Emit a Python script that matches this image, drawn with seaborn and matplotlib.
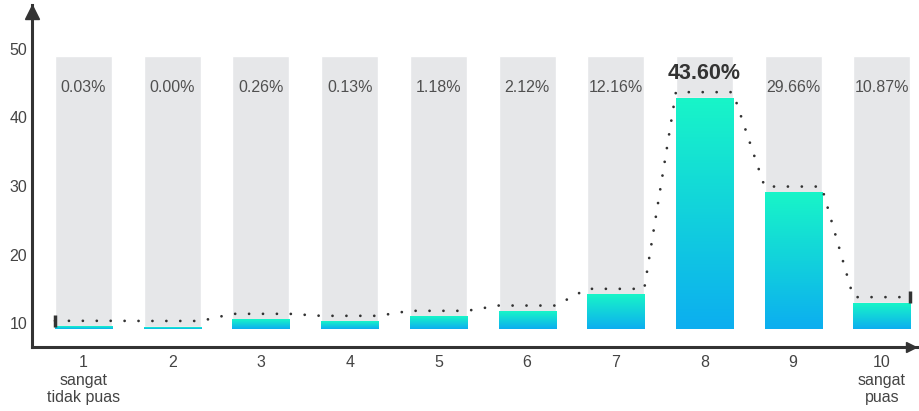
import numpy as np
import pandas as pd
import seaborn as sns
import matplotlib.pyplot as plt
from matplotlib.colors import LinearSegmentedColormap

# data
categories = ['1', '2', '3', '4', '5', '6', '7', '8', '9', '10']
tick_labels = ['1\nsangat\ntidak puas', '2', '3', '4', '5', '6', '7', '8', '9',
               '10\nsangat\npuas']
percent_labels = ['0.03%', '0.00%', '0.26%', '0.13%', '1.18%', '2.12%',
                  '12.16%', '43.60%', '29.66%', '10.87%']
bar_tops = [9.42, 9.40, 10.44, 10.15, 10.88, 11.65, 14.09, 42.8, 29.02, 12.88]
bg_top = 49.0
base = 9.12
highlight = 7

sns.set_theme(style='white')
plt.rcParams['font.family'] = ['Liberation Sans', 'DejaVu Sans']

fig = plt.figure(figsize=(9.2, 4.11), dpi=100)
ax = fig.add_axes([32 / 920, 64 / 411, 886 / 920, 342 / 411])

W = 0.643
XMIN, XMAX = -0.581, 9.408
YMIN, YMAX = 6.5, 56.42
df = pd.DataFrame({'cat': categories,
                   'bg': [bg_top - base] * len(categories),
                   'val': [t - base for t in bar_tops]})

sns.barplot(data=df, x='cat', y='bg', color='#e6e7e9', width=W, bottom=base,
            saturation=1, ax=ax)
n_bg = len(ax.patches)
sns.barplot(data=df, x='cat', y='val', color='#18f5c8', width=W, bottom=base,
            saturation=1, ax=ax)

# vertical gradient in each coloured bar
cmap = LinearSegmentedColormap.from_list('g', ['#0caef0', '#18f5c8'])
grad = np.linspace(0, 1, 256).reshape(-1, 1)
for p in ax.patches[n_bg:]:
    x0, y0 = p.get_x(), p.get_y()
    x1, y1 = x0 + p.get_width(), y0 + p.get_height()
    ax.imshow(grad, cmap=cmap, origin='lower', aspect='auto',
              extent=[x0, x1, y0, y1], zorder=2)
    p.set_facecolor('none')

# dotted trend line across bar tops
xs, ys = [], []
for i, t in enumerate(bar_tops):
    xs += [i - W / 2, i + W / 2]
    ys += [t + 0.9, t + 0.9]
ax.plot(xs, ys, color='#333333', lw=2, linestyle=(0, (0.01, 5)),
        dash_capstyle='round', zorder=4)
ax.plot([xs[0], xs[-1]], [ys[0], ys[-1]], ls='none', marker='|', ms=9, mew=2.5,
        color='#333333', zorder=4)

# percentage labels
for i, lab in enumerate(percent_labels):
    if i == highlight:
        ax.text(i, 46.4, lab, ha='center', va='center', fontsize=15.5,
                fontweight='bold', color='#333333', zorder=5)
    else:
        ax.text(i, 44.45, lab, ha='center', va='center', fontsize=11.5,
                color='#505050', zorder=5)

ax.set_xlim(XMIN, XMAX)
ax.set_ylim(YMIN, YMAX)
ax.set_yticks([10, 20, 30, 40, 50])
ax.set_xticks(range(len(categories)))
ax.set_xticklabels(tick_labels, linespacing=1.2)
ax.set_xlabel('')
ax.set_ylabel('')
ax.tick_params(axis='both', length=0, labelsize=11.5, labelcolor='#444444')
ax.tick_params(axis='x', pad=6)
ax.tick_params(axis='y', pad=3.5)

for s in ('top', 'right'):
    ax.spines[s].set_visible(False)
for s in ('left', 'bottom'):
    ax.spines[s].set_color('#333333')
    ax.spines[s].set_linewidth(2.2)

# arrow heads on the axes
ax.plot(XMIN, 55.4, marker='^', ms=10, color='#333333', clip_on=False, zorder=6)
ax.plot(9.33, YMIN, marker='>', ms=7, color='#333333', clip_on=False, zorder=6)

fig.savefig('out.png', dpi=100)
